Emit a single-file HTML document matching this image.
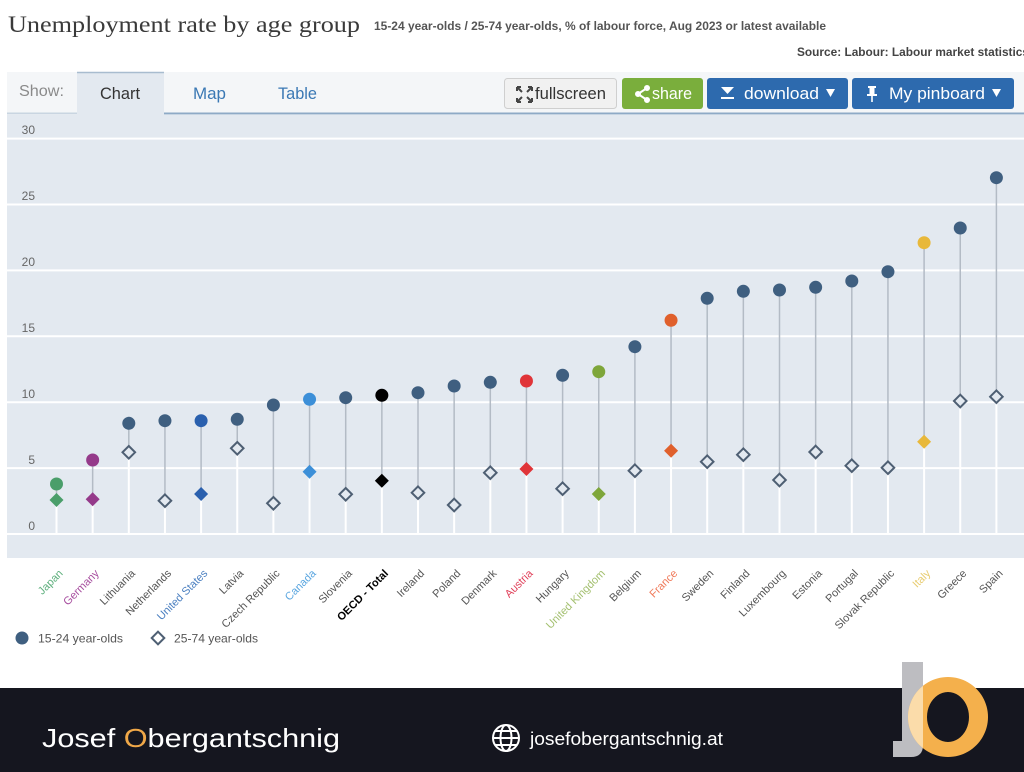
<!DOCTYPE html>
<html>
<head>
<meta charset="utf-8">
<style>
html,body{margin:0;padding:0;background:#fff;}
svg{display:block;}
</style>
</head>
<body>
<svg width="1024" height="772" viewBox="0 0 1024 772" xmlns="http://www.w3.org/2000/svg" font-family="'Liberation Sans', sans-serif">
<rect x="0" y="0" width="1024" height="772" fill="#fff"/>

<!-- Header -->
<text x="8" y="32" font-family="'Liberation Serif', serif" font-size="23" fill="#3a3a3a" textLength="352" lengthAdjust="spacingAndGlyphs">Unemployment rate by age group</text>
<text x="374" y="30" font-size="12" font-weight="bold" fill="#555" textLength="452" lengthAdjust="spacingAndGlyphs">15-24 year-olds / 25-74 year-olds, % of labour force, Aug 2023 or latest available</text>
<text x="797" y="56" font-size="12" font-weight="bold" fill="#444" textLength="232" lengthAdjust="spacingAndGlyphs">Source: Labour: Labour market statistics</text>

<!-- Tab bar -->
<rect x="7" y="72" width="1017" height="42" fill="#f4f6f8"/>
<rect x="77" y="72" width="87" height="43" fill="#e3e9f0"/>
<line x1="77" y1="72.5" x2="164" y2="72.5" stroke="#a8bccf" stroke-width="1.5"/>
<line x1="7" y1="113.5" x2="77" y2="113.5" stroke="#c9d5e1" stroke-width="2"/>
<line x1="164" y1="113.5" x2="1024" y2="113.5" stroke="#8eaac6" stroke-width="2"/>
<text x="19" y="96" font-size="16" fill="#8a8a8a" textLength="45" lengthAdjust="spacingAndGlyphs">Show:</text>
<text x="100" y="99" font-size="17" fill="#333" textLength="40" lengthAdjust="spacingAndGlyphs">Chart</text>
<text x="193" y="99" font-size="17" fill="#3a78b4" textLength="33" lengthAdjust="spacingAndGlyphs">Map</text>
<text x="278" y="99" font-size="17" fill="#3a78b4" textLength="39" lengthAdjust="spacingAndGlyphs">Table</text>

<!-- Buttons -->
<rect x="504.5" y="78.5" width="112" height="30" rx="3" fill="#f1f1f1" stroke="#cfcfcf"/>
<g stroke="#444" stroke-width="2" fill="none">
  <path d="M517 87 l5 5 M517 87 h4 M517 87 v4"/>
  <path d="M532 87 l-5 5 M532 87 h-4 M532 87 v4"/>
  <path d="M517 102 l5 -5 M517 102 h4 M517 102 v-4"/>
  <path d="M532 102 l-5 -5 M532 102 h-4 M532 102 v-4"/>
</g>
<text x="535" y="99" font-size="17" fill="#333" textLength="71" lengthAdjust="spacingAndGlyphs">fullscreen</text>

<rect x="622" y="78" width="81" height="31" rx="3" fill="#7aae3c"/>
<g stroke="#fff" stroke-width="2" fill="#fff">
  <path d="M647 88 L638 94 L647 100" fill="none"/>
  <circle cx="647" cy="88" r="2"/><circle cx="638" cy="94" r="2"/><circle cx="647" cy="100" r="2"/>
</g>
<text x="652" y="99" font-size="17" fill="#fff" textLength="40" lengthAdjust="spacingAndGlyphs">share</text>

<rect x="707" y="78" width="141" height="31" rx="3" fill="#2d6aae"/>
<path d="M721 87 h13 l-6.5 7 z" fill="#fff"/>
<rect x="721" y="97" width="13" height="2" fill="#fff"/>
<text x="744" y="99" font-size="17" fill="#fff" textLength="75" lengthAdjust="spacingAndGlyphs">download</text>
<path d="M826 89 h9 l-4.5 8 z" fill="#fff"/>

<rect x="852" y="78" width="162" height="31" rx="3" fill="#2d6aae"/>
<g fill="#fff">
  <rect x="868" y="86" width="8" height="2"/>
  <rect x="869.5" y="88" width="5" height="6"/>
  <rect x="867" y="94" width="10" height="2"/>
  <rect x="871.2" y="96" width="1.6" height="6"/>
</g>
<text x="889" y="99" font-size="17" fill="#fff" textLength="96" lengthAdjust="spacingAndGlyphs">My pinboard</text>
<path d="M992 89 h9 l-4.5 8 z" fill="#fff"/>

<!-- Chart background -->
<rect x="7" y="115" width="1017" height="443" fill="#e3e9f0"/>

<!-- Grid -->
<g stroke="#fff" stroke-width="2">
  <line x1="7" y1="138.6" x2="1024" y2="138.6"/>
  <line x1="7" y1="204.5" x2="1024" y2="204.5"/>
  <line x1="7" y1="270.4" x2="1024" y2="270.4"/>
  <line x1="7" y1="336.3" x2="1024" y2="336.3"/>
  <line x1="7" y1="402.2" x2="1024" y2="402.2"/>
  <line x1="7" y1="468.1" x2="1024" y2="468.1"/>
  <line x1="7" y1="534" x2="1024" y2="534"/>
</g>
<g font-size="12" fill="#666" text-anchor="end">
  <text x="35" y="134">30</text>
  <text x="35" y="200">25</text>
  <text x="35" y="266">20</text>
  <text x="35" y="332">15</text>
  <text x="35" y="398">10</text>
  <text x="35" y="464">5</text>
  <text x="35" y="530">0</text>
</g>

<!-- Series -->
<g id="series">
<!-- Japan -->
<line x1="56.5" y1="500" x2="56.5" y2="534" stroke="#fff" stroke-width="2"/>
<line x1="56.5" y1="484" x2="56.5" y2="500" stroke="#b3bbc5" stroke-width="1.5"/>
<circle cx="56.5" cy="484" r="6.5" fill="#4a9e6a"/>
<polygon points="56.5,493 63.5,500 56.5,507 49.5,500" fill="#4a9e6a"/>
<!-- Germany -->
<line x1="92.65" y1="499.3" x2="92.65" y2="534" stroke="#fff" stroke-width="2"/>
<line x1="92.65" y1="460" x2="92.65" y2="499.3" stroke="#b3bbc5" stroke-width="1.5"/>
<circle cx="92.65" cy="460" r="6.5" fill="#953a8a"/>
<polygon points="92.65,492.3 99.65,499.3 92.65,506.3 85.65,499.3" fill="#953a8a"/>
<!-- Lithuania -->
<line x1="128.8" y1="452.3" x2="128.8" y2="534" stroke="#fff" stroke-width="2"/>
<line x1="128.8" y1="423.3" x2="128.8" y2="452.3" stroke="#b3bbc5" stroke-width="1.5"/>
<circle cx="128.8" cy="423.3" r="6.5" fill="#3f5f80"/>
<polygon points="128.8,446 135.1,452.3 128.8,458.6 122.5,452.3" fill="#e3e9f0" stroke="#4e5f73" stroke-width="2"/>
<!-- Netherlands -->
<line x1="164.95" y1="500.7" x2="164.95" y2="534" stroke="#fff" stroke-width="2"/>
<line x1="164.95" y1="420.7" x2="164.95" y2="500.7" stroke="#b3bbc5" stroke-width="1.5"/>
<circle cx="164.95" cy="420.7" r="6.5" fill="#3f5f80"/>
<polygon points="164.95,494.4 171.25,500.7 164.95,507 158.65,500.7" fill="#e3e9f0" stroke="#4e5f73" stroke-width="2"/>
<!-- United States -->
<line x1="201.1" y1="494" x2="201.1" y2="534" stroke="#fff" stroke-width="2"/>
<line x1="201.1" y1="420.7" x2="201.1" y2="494" stroke="#b3bbc5" stroke-width="1.5"/>
<circle cx="201.1" cy="420.7" r="6.5" fill="#2a60ae"/>
<polygon points="201.1,487 208.1,494 201.1,501 194.1,494" fill="#2a60ae"/>
<!-- Latvia -->
<line x1="237.25" y1="448.3" x2="237.25" y2="534" stroke="#fff" stroke-width="2"/>
<line x1="237.25" y1="419.3" x2="237.25" y2="448.3" stroke="#b3bbc5" stroke-width="1.5"/>
<circle cx="237.25" cy="419.3" r="6.5" fill="#3f5f80"/>
<polygon points="237.25,442 243.55,448.3 237.25,454.6 230.95,448.3" fill="#e3e9f0" stroke="#4e5f73" stroke-width="2"/>
<!-- Czech Republic -->
<line x1="273.4" y1="503.3" x2="273.4" y2="534" stroke="#fff" stroke-width="2"/>
<line x1="273.4" y1="405" x2="273.4" y2="503.3" stroke="#b3bbc5" stroke-width="1.5"/>
<circle cx="273.4" cy="405" r="6.5" fill="#3f5f80"/>
<polygon points="273.4,497 279.7,503.3 273.4,509.6 267.1,503.3" fill="#e3e9f0" stroke="#4e5f73" stroke-width="2"/>
<!-- Canada -->
<line x1="309.55" y1="471.7" x2="309.55" y2="534" stroke="#fff" stroke-width="2"/>
<line x1="309.55" y1="399.3" x2="309.55" y2="471.7" stroke="#b3bbc5" stroke-width="1.5"/>
<circle cx="309.55" cy="399.3" r="6.5" fill="#3c8fd8"/>
<polygon points="309.55,464.7 316.55,471.7 309.55,478.7 302.55,471.7" fill="#3c8fd8"/>
<!-- Slovenia -->
<line x1="345.7" y1="494.3" x2="345.7" y2="534" stroke="#fff" stroke-width="2"/>
<line x1="345.7" y1="397.7" x2="345.7" y2="494.3" stroke="#b3bbc5" stroke-width="1.5"/>
<circle cx="345.7" cy="397.7" r="6.5" fill="#3f5f80"/>
<polygon points="345.7,488 352,494.3 345.7,500.6 339.4,494.3" fill="#e3e9f0" stroke="#4e5f73" stroke-width="2"/>
<!-- OECD -->
<line x1="381.85" y1="480.7" x2="381.85" y2="534" stroke="#fff" stroke-width="2"/>
<line x1="381.85" y1="395.3" x2="381.85" y2="480.7" stroke="#b3bbc5" stroke-width="1.5"/>
<circle cx="381.85" cy="395.3" r="6.5" fill="#000"/>
<polygon points="381.85,473.7 388.85,480.7 381.85,487.7 374.85,480.7" fill="#000"/>
<!-- Ireland -->
<line x1="418" y1="492.7" x2="418" y2="534" stroke="#fff" stroke-width="2"/>
<line x1="418" y1="392.7" x2="418" y2="492.7" stroke="#b3bbc5" stroke-width="1.5"/>
<circle cx="418" cy="392.7" r="6.5" fill="#3f5f80"/>
<polygon points="418,486.4 424.3,492.7 418,499 411.7,492.7" fill="#e3e9f0" stroke="#4e5f73" stroke-width="2"/>
<!-- Poland -->
<line x1="454.15" y1="505" x2="454.15" y2="534" stroke="#fff" stroke-width="2"/>
<line x1="454.15" y1="386" x2="454.15" y2="505" stroke="#b3bbc5" stroke-width="1.5"/>
<circle cx="454.15" cy="386" r="6.5" fill="#3f5f80"/>
<polygon points="454.15,498.7 460.45,505 454.15,511.3 447.85,505" fill="#e3e9f0" stroke="#4e5f73" stroke-width="2"/>
<!-- Denmark -->
<line x1="490.3" y1="472.7" x2="490.3" y2="534" stroke="#fff" stroke-width="2"/>
<line x1="490.3" y1="382.3" x2="490.3" y2="472.7" stroke="#b3bbc5" stroke-width="1.5"/>
<circle cx="490.3" cy="382.3" r="6.5" fill="#3f5f80"/>
<polygon points="490.3,466.4 496.6,472.7 490.3,479 484,472.7" fill="#e3e9f0" stroke="#4e5f73" stroke-width="2"/>
<!-- Austria -->
<line x1="526.45" y1="469" x2="526.45" y2="534" stroke="#fff" stroke-width="2"/>
<line x1="526.45" y1="381" x2="526.45" y2="469" stroke="#b3bbc5" stroke-width="1.5"/>
<circle cx="526.45" cy="381" r="6.5" fill="#e03438"/>
<polygon points="526.45,462 533.45,469 526.45,476 519.45,469" fill="#e03438"/>
<!-- Hungary -->
<line x1="562.6" y1="488.7" x2="562.6" y2="534" stroke="#fff" stroke-width="2"/>
<line x1="562.6" y1="375.3" x2="562.6" y2="488.7" stroke="#b3bbc5" stroke-width="1.5"/>
<circle cx="562.6" cy="375.3" r="6.5" fill="#3f5f80"/>
<polygon points="562.6,482.4 568.9,488.7 562.6,495 556.3,488.7" fill="#e3e9f0" stroke="#4e5f73" stroke-width="2"/>
<!-- United Kingdom -->
<line x1="598.75" y1="494" x2="598.75" y2="534" stroke="#fff" stroke-width="2"/>
<line x1="598.75" y1="371.7" x2="598.75" y2="494" stroke="#b3bbc5" stroke-width="1.5"/>
<circle cx="598.75" cy="371.7" r="6.5" fill="#7ea63a"/>
<polygon points="598.75,487 605.75,494 598.75,501 591.75,494" fill="#7ea63a"/>
<!-- Belgium -->
<line x1="634.9" y1="470.7" x2="634.9" y2="534" stroke="#fff" stroke-width="2"/>
<line x1="634.9" y1="346.7" x2="634.9" y2="470.7" stroke="#b3bbc5" stroke-width="1.5"/>
<circle cx="634.9" cy="346.7" r="6.5" fill="#3f5f80"/>
<polygon points="634.9,464.4 641.2,470.7 634.9,477 628.6,470.7" fill="#e3e9f0" stroke="#4e5f73" stroke-width="2"/>
<!-- France -->
<line x1="671.05" y1="450.7" x2="671.05" y2="534" stroke="#fff" stroke-width="2"/>
<line x1="671.05" y1="320.3" x2="671.05" y2="450.7" stroke="#b3bbc5" stroke-width="1.5"/>
<circle cx="671.05" cy="320.3" r="6.5" fill="#e0602c"/>
<polygon points="671.05,443.7 678.05,450.7 671.05,457.7 664.05,450.7" fill="#e0602c"/>
<!-- Sweden -->
<line x1="707.2" y1="461.7" x2="707.2" y2="534" stroke="#fff" stroke-width="2"/>
<line x1="707.2" y1="298.3" x2="707.2" y2="461.7" stroke="#b3bbc5" stroke-width="1.5"/>
<circle cx="707.2" cy="298.3" r="6.5" fill="#3f5f80"/>
<polygon points="707.2,455.4 713.5,461.7 707.2,468 700.9,461.7" fill="#e3e9f0" stroke="#4e5f73" stroke-width="2"/>
<!-- Finland -->
<line x1="743.35" y1="454.7" x2="743.35" y2="534" stroke="#fff" stroke-width="2"/>
<line x1="743.35" y1="291.3" x2="743.35" y2="454.7" stroke="#b3bbc5" stroke-width="1.5"/>
<circle cx="743.35" cy="291.3" r="6.5" fill="#3f5f80"/>
<polygon points="743.35,448.4 749.65,454.7 743.35,461 737.05,454.7" fill="#e3e9f0" stroke="#4e5f73" stroke-width="2"/>
<!-- Luxembourg -->
<line x1="779.5" y1="480" x2="779.5" y2="534" stroke="#fff" stroke-width="2"/>
<line x1="779.5" y1="290" x2="779.5" y2="480" stroke="#b3bbc5" stroke-width="1.5"/>
<circle cx="779.5" cy="290" r="6.5" fill="#3f5f80"/>
<polygon points="779.5,473.7 785.8,480 779.5,486.3 773.2,480" fill="#e3e9f0" stroke="#4e5f73" stroke-width="2"/>
<!-- Estonia -->
<line x1="815.65" y1="452" x2="815.65" y2="534" stroke="#fff" stroke-width="2"/>
<line x1="815.65" y1="287.3" x2="815.65" y2="452" stroke="#b3bbc5" stroke-width="1.5"/>
<circle cx="815.65" cy="287.3" r="6.5" fill="#3f5f80"/>
<polygon points="815.65,445.7 821.95,452 815.65,458.3 809.35,452" fill="#e3e9f0" stroke="#4e5f73" stroke-width="2"/>
<!-- Portugal -->
<line x1="851.8" y1="465.7" x2="851.8" y2="534" stroke="#fff" stroke-width="2"/>
<line x1="851.8" y1="281" x2="851.8" y2="465.7" stroke="#b3bbc5" stroke-width="1.5"/>
<circle cx="851.8" cy="281" r="6.5" fill="#3f5f80"/>
<polygon points="851.8,459.4 858.1,465.7 851.8,472 845.5,465.7" fill="#e3e9f0" stroke="#4e5f73" stroke-width="2"/>
<!-- Slovak Republic -->
<line x1="887.95" y1="467.7" x2="887.95" y2="534" stroke="#fff" stroke-width="2"/>
<line x1="887.95" y1="271.7" x2="887.95" y2="467.7" stroke="#b3bbc5" stroke-width="1.5"/>
<circle cx="887.95" cy="271.7" r="6.5" fill="#3f5f80"/>
<polygon points="887.95,461.4 894.25,467.7 887.95,474 881.65,467.7" fill="#e3e9f0" stroke="#4e5f73" stroke-width="2"/>
<!-- Italy -->
<line x1="924.1" y1="441.7" x2="924.1" y2="534" stroke="#fff" stroke-width="2"/>
<line x1="924.1" y1="242.7" x2="924.1" y2="441.7" stroke="#b3bbc5" stroke-width="1.5"/>
<circle cx="924.1" cy="242.7" r="6.5" fill="#e8b83a"/>
<polygon points="924.1,434.7 931.1,441.7 924.1,448.7 917.1,441.7" fill="#e8b83a"/>
<!-- Greece -->
<line x1="960.25" y1="401" x2="960.25" y2="534" stroke="#fff" stroke-width="2"/>
<line x1="960.25" y1="228" x2="960.25" y2="401" stroke="#b3bbc5" stroke-width="1.5"/>
<circle cx="960.25" cy="228" r="6.5" fill="#3f5f80"/>
<polygon points="960.25,394.7 966.55,401 960.25,407.3 953.95,401" fill="#e3e9f0" stroke="#4e5f73" stroke-width="2"/>
<!-- Spain -->
<line x1="996.4" y1="396.7" x2="996.4" y2="534" stroke="#fff" stroke-width="2"/>
<line x1="996.4" y1="177.7" x2="996.4" y2="396.7" stroke="#b3bbc5" stroke-width="1.5"/>
<circle cx="996.4" cy="177.7" r="6.5" fill="#3f5f80"/>
<polygon points="996.4,390.4 1002.7,396.7 996.4,403 990.1,396.7" fill="#e3e9f0" stroke="#4e5f73" stroke-width="2"/>
</g>

<!-- X labels -->
<g font-size="11" text-anchor="end" fill="#555">
<text transform="translate(63.5,574) rotate(-45)" fill="#5fb07e">Japan</text>
<text transform="translate(99.65,574) rotate(-45)" fill="#a850a0">Germany</text>
<text transform="translate(135.8,574) rotate(-45)">Lithuania</text>
<text transform="translate(171.95,574) rotate(-45)">Netherlands</text>
<text transform="translate(208.1,574) rotate(-45)" fill="#4a7fc0">United States</text>
<text transform="translate(244.25,574) rotate(-45)">Latvia</text>
<text transform="translate(280.4,574) rotate(-45)">Czech Republic</text>
<text transform="translate(316.55,574) rotate(-45)" fill="#5aa6e0">Canada</text>
<text transform="translate(352.7,574) rotate(-45)">Slovenia</text>
<text transform="translate(388.85,574) rotate(-45)" fill="#000" font-weight="bold">OECD - Total</text>
<text transform="translate(425,574) rotate(-45)">Ireland</text>
<text transform="translate(461.15,574) rotate(-45)">Poland</text>
<text transform="translate(497.3,574) rotate(-45)">Denmark</text>
<text transform="translate(533.45,574) rotate(-45)" fill="#e0405a">Austria</text>
<text transform="translate(569.6,574) rotate(-45)">Hungary</text>
<text transform="translate(605.75,574) rotate(-45)" fill="#a4c070">United Kingdom</text>
<text transform="translate(641.9,574) rotate(-45)">Belgium</text>
<text transform="translate(678.05,574) rotate(-45)" fill="#f07a5a">France</text>
<text transform="translate(714.2,574) rotate(-45)">Sweden</text>
<text transform="translate(750.35,574) rotate(-45)">Finland</text>
<text transform="translate(786.5,574) rotate(-45)">Luxembourg</text>
<text transform="translate(822.65,574) rotate(-45)">Estonia</text>
<text transform="translate(858.8,574) rotate(-45)">Portugal</text>
<text transform="translate(894.95,574) rotate(-45)">Slovak Republic</text>
<text transform="translate(931.1,574) rotate(-45)" fill="#e8cc70">Italy</text>
<text transform="translate(967.25,574) rotate(-45)">Greece</text>
<text transform="translate(1003.4,574) rotate(-45)">Spain</text>
</g>

<!-- Legend -->
<circle cx="22" cy="638" r="6.5" fill="#3f5f80"/>
<text x="38" y="642.5" font-size="12" fill="#555" textLength="85" lengthAdjust="spacingAndGlyphs">15-24 year-olds</text>
<polygon points="158,631.7 164.3,638 158,644.3 151.7,638" fill="#fff" stroke="#4e5f73" stroke-width="2"/>
<text x="174" y="642.5" font-size="12" fill="#555" textLength="84" lengthAdjust="spacingAndGlyphs">25-74 year-olds</text>

<!-- Footer -->
<rect x="0" y="688" width="1024" height="84" fill="#15161f"/>
<text x="42" y="747" font-size="26" fill="#fff" textLength="298" lengthAdjust="spacingAndGlyphs">Josef <tspan fill="#f0a848">O</tspan>bergantschnig</text>
<g stroke="#fff" stroke-width="2" fill="none">
  <circle cx="506" cy="738" r="13"/>
  <ellipse cx="506" cy="738" rx="5.5" ry="13"/>
  <line x1="493" y1="738" x2="519" y2="738"/>
  <line x1="495" y1="731" x2="517" y2="731"/>
  <line x1="495" y1="745" x2="517" y2="745"/>
</g>
<text x="530" y="745" font-size="18" fill="#fff" textLength="193" lengthAdjust="spacingAndGlyphs">josefobergantschnig.at</text>

<!-- Logo -->
<path d="M902 662 H923 V745 Q923 757 911 757 H893 V741 H902 Z" fill="#bdbdc1"/>
<defs>
  <clipPath id="ringclip">
    <path d="M948 677 a40 40 0 1 0 0.01 0 Z M948 692 a21 25 0 1 1 -0.01 0 Z" fill-rule="evenodd" clip-rule="evenodd"/>
  </clipPath>
</defs>
<path d="M948 677 a40 40 0 1 0 0.01 0 Z M948 692 a21 25 0 1 1 -0.01 0 Z" fill="#f4b04c" fill-rule="evenodd"/>
<g clip-path="url(#ringclip)">
  <path d="M902 662 H923 V745 Q923 757 911 757 H893 V741 H902 Z" fill="#fbdcaa"/>
</g>
</svg>
</body>
</html>
